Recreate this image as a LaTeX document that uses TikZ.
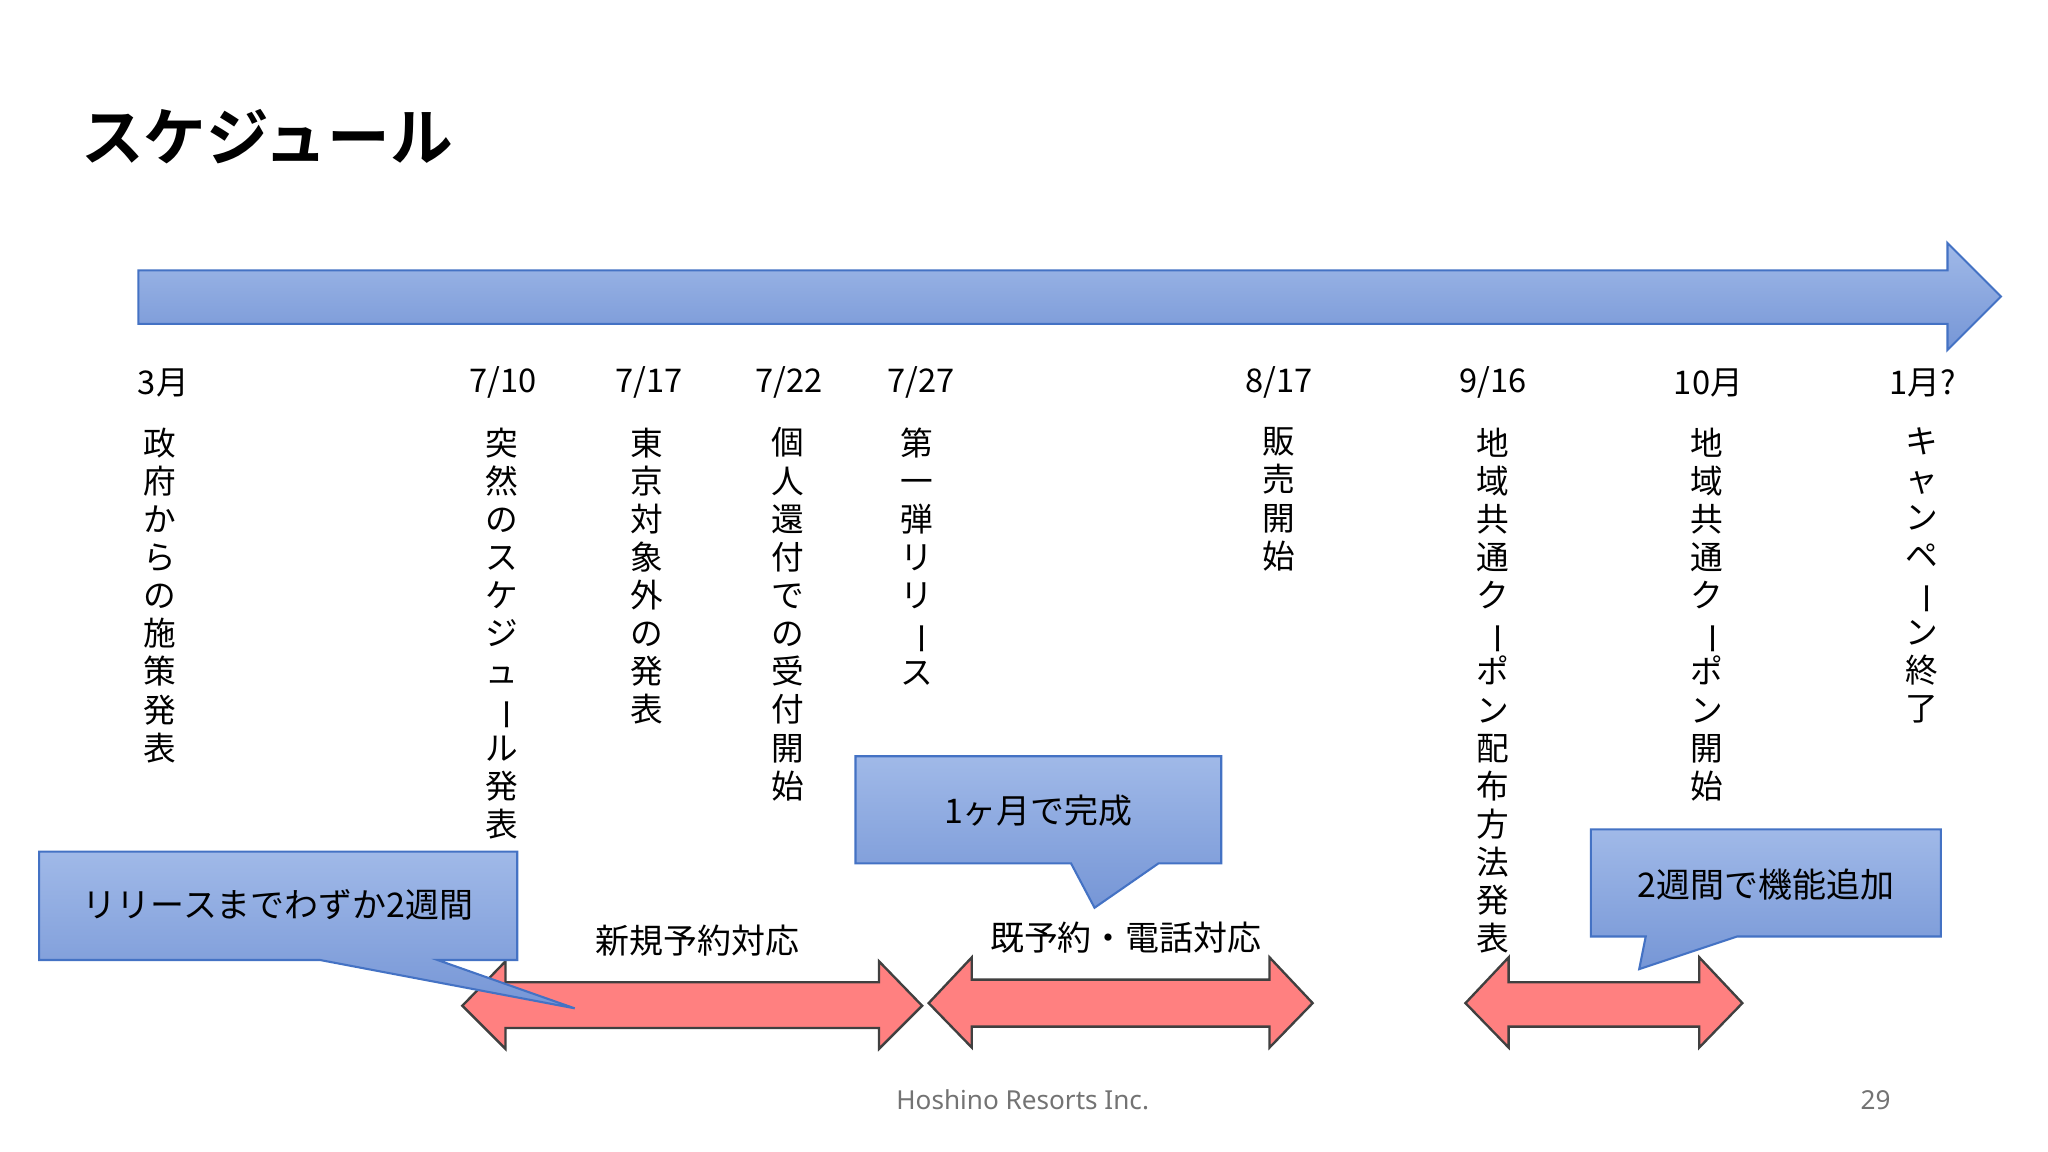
\documentclass[tikz,border=0pt]{standalone}
\usepackage{fontspec}
\setmainfont{Noto Sans CJK JP}
\newfontfamily\jpb{Noto Sans CJK JP Bold}
\newfontfamily\lat{Noto Sans}
\usepackage{graphicx}
\newcommand{\vb}{\rotatebox[origin=c]{-90}{ー}}
\definecolor{btop}{RGB}{160,185,232}
\definecolor{bbot}{RGB}{118,150,214}
\definecolor{bline}{RGB}{68,114,196}
\definecolor{rfill}{RGB}{255,128,128}
\begin{document}
\begin{tikzpicture}[x=0.5pt,y=-0.5pt,
  blu/.style={draw=bline,line width=0.8pt,top color=btop,bottom color=bbot},
  red/.style={draw=black!75,line width=0.9pt,fill=rfill},
  dt/.style={font=\fontsize{12.5}{14}\selectfont,anchor=center},
  vt/.style={font=\fontsize{12.5}{14.6}\selectfont,align=center,anchor=north,inner sep=0pt},
  lb/.style={font=\fontsize{13}{15}\selectfont,anchor=center}]
\useasboundingbox (0,0) rectangle (1568,882);
\fill[white] (0,0) rectangle (1568,882);
\node[anchor=west,font=\jpb\fontsize{24}{30}\selectfont] (title) at (55,105) {スケジュール};
% main arrow
\draw[blu] (106,207) -- (1491,207) -- (1491,186) -- (1532,227) -- (1491,268) -- (1491,248) -- (106,248) -- cycle;
% dates
\foreach \x/\t/\n in {125/3月/d1,385/7\slash 10/d2,497/7\slash 17/d3,604/7\slash 22/d4,705/7\slash 27/d5,979/8\slash 17/d6,1143/9\slash 16/d7,1308/10月/d8,1472/1月?/d9}
  \node[dt] (\n) at (\x,293) {\t};
% vertical texts
\node[vt] (v1) at (122,327) {政\\府\\か\\ら\\の\\施\\策\\発\\表};
\node[vt] (v2) at (384,327) {突\\然\\の\\ス\\ケ\\ジ\\ュ\\\vb\\ル\\発\\表};
\node[vt] (v3) at (495,327) {東\\京\\対\\象\\外\\の\\発\\表};
\node[vt] (v4) at (603,327) {個\\人\\還\\付\\で\\の\\受\\付\\開\\始};
\node[vt] (v5) at (702,327) {第\\一\\弾\\リ\\リ\\\vb\\ス};
\node[vt] (v6) at (979,327) {販\\売\\開\\始};
% red arrows
\draw[red] (354,770) -- (387,736) -- (387,752) -- (673,752) -- (673,736) -- (706,770) -- (673,803) -- (673,787) -- (387,787) -- (387,803) -- cycle;
\draw[red] (711,768) -- (744,733) -- (744,750) -- (972,750) -- (972,733) -- (1005,768) -- (972,802) -- (972,786) -- (744,786) -- (744,802) -- cycle;
\draw[red] (1122,768) -- (1155,733) -- (1155,752) -- (1301,752) -- (1301,733) -- (1334,768) -- (1301,802) -- (1301,786) -- (1155,786) -- (1155,802) -- cycle;
\node[vt] (v7) at (1143,327) {地\\域\\共\\通\\ク\\\vb\\ポ\\ン\\配\\布\\方\\法\\発\\表};
\node[vt] (v8) at (1307,327) {地\\域\\共\\通\\ク\\\vb\\ポ\\ン\\開\\始};
\node[vt] (v9) at (1471,327) {キ\\ャ\\ン\\ペ\\\vb\\ン\\終\\了};
\node[lb] (l1) at (534,720) {新規予約対応};
\node[lb] (l2) at (862,718) {既予約・電話対応};
% callouts
\draw[blu] (30,652) -- (396,652) -- (396,735) -- (335,735) -- (440,772) -- (245,735) -- (30,735) -- cycle;
\node[lb] (c1) at (213,693) {リリースまでわずか2週間};
\draw[blu] (655,579) -- (935,579) -- (935,661) -- (887,661) -- (838,695) -- (820,661) -- (655,661) -- cycle;
\node[lb] (c2) at (795,621) {1ヶ月で完成};
\draw[blu] (1218,635) -- (1486,635) -- (1486,717) -- (1330,717) -- (1255,742) -- (1260,717) -- (1218,717) -- cycle;
\node[lb] (c3) at (1352,677) {2週間で機能追加};
% footer
\node[font=\lat\fontsize{10}{12}\selectfont,text=black!55] (f1) at (783,842) {Hoshino Resorts Inc.};
\node[font=\lat\fontsize{10}{12}\selectfont,text=black!55] (f2) at (1436,842) {29};
\end{tikzpicture}
\end{document}
